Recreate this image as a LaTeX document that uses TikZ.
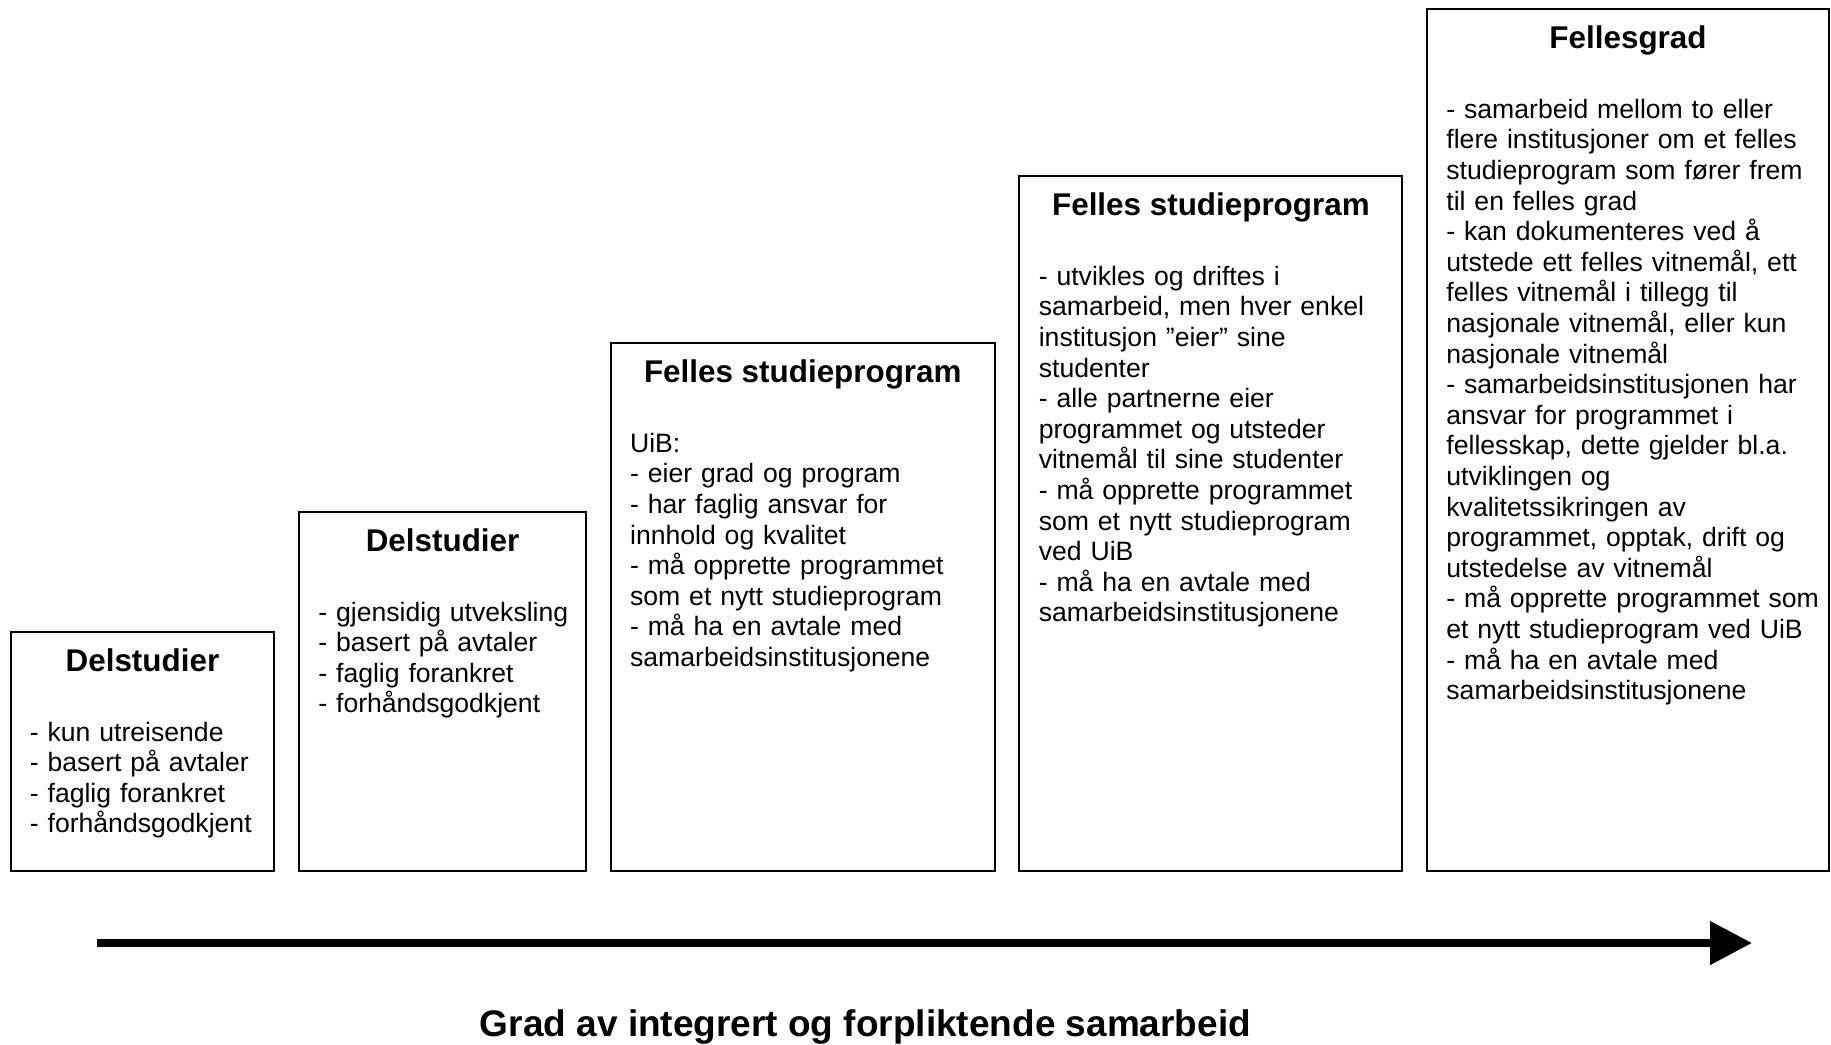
\documentclass[tikz,border=0pt]{standalone}
\usepackage{fontspec}
\setmainfont{Liberation Sans}
\usetikzlibrary{arrows.meta,fit}
\tikzset{
  stagebox/.style={
    draw=black,
    line width=1pt,
    inner sep=0pt
  },
  stagetitle/.style={
    anchor=base,
    inner sep=0pt,
    font=\fontsize{15.7}{18}\selectfont\bfseries
  },
  stagetext/.style={
    anchor=base west,
    inner sep=0pt,
    align=left,
    font=\fontsize{13.3}{15.3}\selectfont
  },
  scaleline/.style={
    draw=black,
    line width=4pt,
    -{Triangle[length=21pt,width=21pt]}
  },
  scalecaption/.style={
    anchor=base,
    inner sep=0pt,
    font=\fontsize{18.5}{22}\selectfont\bfseries
  }
}

\begin{document}
\begin{tikzpicture}[x=0.5pt,y=-0.5pt]
  \useasboundingbox (0,0) rectangle (1831,1044);
  % stages
  \node[stagebox, fit={(10.5,632) (274.4,871)}] (delut) {};
  \node[stagebox, fit={(299,512) (586.2,871)}] (delgjen) {};
  \node[stagebox, fit={(610.7,343.3) (994.9,871)}] (fellesuib) {};
  \node[stagebox, fit={(1019.4,176.3) (1402.4,871)}] (fellesalle) {};
  \node[stagebox, fit={(1427,9.3) (1829,871)}] (fellesgrad) {};
  % titles
  \node[stagetitle] (delutTitle) at ([yshift=-20pt]delut.north) {Delstudier};
  \node[stagetitle] (delgjenTitle) at ([yshift=-20pt]delgjen.north) {Delstudier};
  \node[stagetitle] (fellesuibTitle) at ([yshift=-20pt]fellesuib.north) {Felles studieprogram};
  \node[stagetitle] (fellesalleTitle) at ([yshift=-20pt]fellesalle.north) {Felles studieprogram};
  \node[stagetitle] (fellesgradTitle) at ([yshift=-20pt]fellesgrad.north) {Fellesgrad};
  % bodies
  \node[stagetext, text width=125pt] (delutText) at ([xshift=10pt,yshift=-55pt]delut.north west)
    {- kun utreisende\\- basert på avtaler\\- faglig forankret\\- forhåndsgodkjent};
  \node[stagetext, text width=135pt] (delgjenText) at ([xshift=10pt,yshift=-55pt]delgjen.north west)
    {- gjensidig utveksling\\- basert på avtaler\\- faglig forankret\\- forhåndsgodkjent};
  \node[stagetext, text width=180pt] (fellesuibText) at ([xshift=10pt,yshift=-55pt]fellesuib.north west)
    {UiB:\\- eier grad og program\\- har faglig ansvar for\\innhold og kvalitet\\- må opprette programmet\\som et nytt studieprogram\\- må ha en avtale med\\samarbeidsinstitusjonene};
  \node[stagetext, text width=180pt] (fellesalleText) at ([xshift=10pt,yshift=-55pt]fellesalle.north west)
    {- utvikles og driftes i\\samarbeid, men hver enkel\\institusjon ”eier” sine\\studenter\\- alle partnerne eier\\programmet og utsteder\\vitnemål til sine studenter\\- må opprette programmet\\som et nytt studieprogram\\ved UiB\\- må ha en avtale med\\samarbeidsinstitusjonene};
  \node[stagetext, text width=190pt] (fellesgradText) at ([xshift=10pt,yshift=-55pt]fellesgrad.north west)
    {- samarbeid mellom to eller\\flere institusjoner om et felles\\studieprogram som fører frem\\til en felles grad\\- kan dokumenteres ved å\\utstede ett felles vitnemål, ett\\felles vitnemål i tillegg til\\nasjonale vitnemål, eller kun\\nasjonale vitnemål\\- samarbeidsinstitusjonen har\\ansvar for programmet i\\fellesskap, dette gjelder bl.a.\\utviklingen og\\kvalitetssikringen av\\programmet, opptak, drift og\\utstedelse av vitnemål\\- må opprette programmet som\\et nytt studieprogram ved UiB\\- må ha en avtale med\\samarbeidsinstitusjonene};
  % scale arrow
  \coordinate (scaleStart) at (97,943);
  \coordinate (scaleEnd) at (1752,943);
  \draw[scaleline] (scaleStart) -- (scaleEnd);
  \node[scalecaption] (scaleCaption) at (865.5,1036) {Grad av integrert og forpliktende samarbeid};
\end{tikzpicture}
\end{document}
